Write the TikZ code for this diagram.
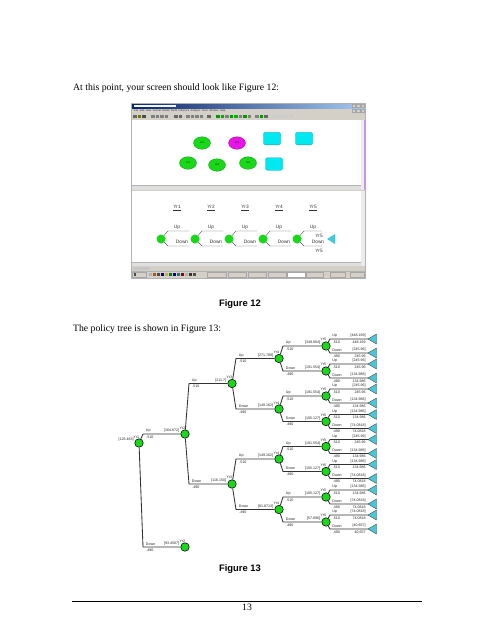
\documentclass[tikz,border=0pt]{standalone}
\usepackage{fontspec}
\setmainfont{Liberation Serif}
\setsansfont{Liberation Sans}
\usetikzlibrary{calc,shapes.geometric}
\definecolor{tgreen}{RGB}{25,215,25}
\definecolor{tcyan}{RGB}{70,200,215}
\definecolor{wingray}{RGB}{212,208,200}
\definecolor{tblue}{RGB}{10,36,106}
\definecolor{tlblue}{RGB}{166,202,240}
\definecolor{smag}{RGB}{230,20,230}
\definecolor{scyan}{RGB}{0,232,240}
\definecolor{slilac}{RGB}{200,150,215}
% chance node of the policy tree with its name label
\newcommand\cnode[4]{%
  \node[chance] (#1) at (#2,#3) {};
  \node[lbl,anchor=south east] at ($(#1)+(0.5,-4.6)$) {#4};
}
% branch between two chance nodes
\newcommand\tbr[5]{%
  \coordinate (k#2) at ($(#1 |- #2)+(4,0)$);
  \draw[br] (#1) -- (k#2) -- (#2);
  \node[lbl,anchor=south west] at ($(k#2)+(2.5,-1.1)$) {#3};
  \node[lbl,anchor=north west] at ($(k#2)+(3,1.4)$) {#4};
  \node[lbl,anchor=south east] at ($(#2)+(-5.5,-1.1)$) {#5};
}
% branch to a terminal triangle
\newcommand\tleaf[7]{%
  \coordinate (#2) at (368,#3);
  \draw[tri] (#2) -- ++(8.5,-5) -- ++(0,10) -- cycle;
  \coordinate (k#2) at ($(#1 |- #2)+(4,0)$);
  \draw[br] (#1) -- (k#2) -- (#2);
  \node[lbl,anchor=south west] at ($(k#2)+(2,-1.1)$) {#4};
  \node[lbl,anchor=north west] at ($(k#2)+(2.5,1.4)$) {#5};
  \node[lbl,anchor=south east] at ($(#2)+(-2,-1.1)$) {#6};
  \node[lbl,anchor=north east] at ($(#2)+(-2,1.4)$) {#7};
}
\begin{document}
\begin{tikzpicture}[x=1pt,y=-1pt,
  lbl/.style={font=\fontsize{3.6}{4}\selectfont\sffamily,inner sep=0.2pt,text=black!85},
  br/.style={draw=black!80,line width=0.85pt},
  chance/.style={circle,draw=black,line width=0.55pt,fill=tgreen,minimum size=8.5pt,inner sep=0pt},
  tri/.style={draw=black!70,fill=tcyan,line width=0.4pt,line join=round},
  slbl/.style={font=\fontsize{4.8}{5}\selectfont\sffamily,inner sep=0pt,text=black!80},
  schance/.style={circle,fill=tgreen,minimum size=9pt,inner sep=0pt},
  sline/.style={draw=black!65,line width=0.45pt},
  body/.style={font=\fontsize{9.7}{11.6}\selectfont,inner sep=0pt},
  figcap/.style={font=\fontsize{9.4}{11}\selectfont\sffamily\bfseries,inner sep=0pt},
  oval/.style={ellipse,draw=tgreen!70!black,line width=0.3pt,minimum width=17pt,minimum height=12.5pt,inner sep=0pt,font=\fontsize{2.3}{2.5}\selectfont\sffamily},
  sbox/.style={rectangle,rounded corners=2pt,fill=scyan,draw=scyan!70!black,line width=0.3pt,minimum width=17pt,minimum height=12.5pt,inner sep=0pt},
  tbtn/.style={draw=gray!70,fill=wingray,line width=0.3pt},
]
\useasboundingbox (0,0) rectangle (495,640);
\fill[white] (0,0) rectangle (495,640);

% ---------- text ----------
\node[body,anchor=base west] (t1) at (73,90) {At this point, your screen should look like Figure 12:};

% ---------- screenshot (Figure 12) ----------
\fill[wingray] (131,103) rectangle (365,278);
\shade[left color=tblue,right color=tlblue] (131,103) rectangle (365,108.5);
\fill[white!85!tlblue] (134,104.6) rectangle (176,107);
\foreach \x in {352,356.5,361}{\draw[tbtn] (\x,104.3) rectangle ++(3.5,3);}
\node[anchor=west,font=\fontsize{2.6}{3}\selectfont\sffamily,inner sep=0pt,text=black!80] (menu) at (134,111)
  {File\ \ Edit\ \ View\ \ Format\ \ Model\ \ Node\ \ Influence\ \ Analysis\ \ Tools\ \ Window\ \ Help};
\foreach \x in {352,356.5,361}{\draw[tbtn] (\x,109) rectangle ++(3.5,3);}
% toolbar icons
\foreach \x/\c in {133/black!60,137.5/olive!80!black,142/black!70,
  151/black!50,155.5/black!50,160/black!50,164.5/black!50,
  174/black!60,178.5/black!60,
  186/black!50,190.5/black!50,195/black!50,199.5/black!50,
  207/black!60,
  216/green!60!black,220.5/green!70!black,225/black!50,229.5/green!60!black,234/green!70!black,238.5/black!50,243/green!60!black,247.5/black!50,
  255/black!50,259.5/green!60!black,264/black!60,
  271/gray!40,275.5/gray!40,280/gray!40,284.5/gray!40,289/gray!40}
  {\fill[\c] (\x,114.6) rectangle ++(3.6,3.4);}
% top pane
\fill[white] (132,119.5) rectangle (361,185.5);
\fill[gray!15] (361,119.5) rectangle (365,190);
\draw[slilac,line width=0.8pt] (364.3,119.5) -- (364.3,190);
\fill[gray!25] (132,185.5) rectangle (361,189.5);
\draw[gray!60,line width=0.3pt] (132,185.5) -- (361,185.5);
\node[oval,fill=tgreen] (o1) at (202,143) {Yr2};
\node[oval,fill=smag,draw=smag!70!black] (o2) at (237,143) {Yr3};
\node[sbox] (b1) at (272,138.5) {};
\node[sbox] (b2) at (304,138.5) {};
\node[oval,fill=tgreen] (o3) at (188,163) {Yr1};
\node[oval,fill=tgreen] (o4) at (217,165) {Yr4};
\node[oval,fill=tgreen] (o5) at (248,163) {Yr5};
\node[sbox] (b3) at (274,164) {};
% bottom pane
\fill[white] (132,190.5) rectangle (361,262);
\fill[gray!15] (361,190.5) rectangle (365,266);
\fill[gray!25] (132,262) rectangle (361,266);
\draw[gray!60,line width=0.3pt] (132,262) -- (361,262);
\foreach \i/\x in {1/161,2/195,3/229,4/263,5/297}{
  \node[schance] (s\i) at (\x,239) {};
  \node[slbl] (y\i) at (\x+16,208) {\underline{Yr\i}};
  \node[slbl] (u\i) at (\x+16,227.5) {Up};
  \node[slbl] (d\i) at (\x+21,242) {Down};
}
\foreach \i/\x in {1/161,2/195,3/229,4/263}{
  \coordinate (su\i) at (\x+28,231);
  \coordinate (sd\i) at (\x+28,246);
  \draw[sline] (s\i) -- ($(s\i)+(7,-8)$) -- (su\i);
  \draw[sline] (s\i) -- ($(s\i)+(7,7)$) -- (sd\i);
}
\coordinate (su5) at (322,231);
\coordinate (sd5) at (322,246);
\draw[sline] (s5) -- ($(s5)+(7,-8)$) -- (su5);
\draw[sline] (s5) -- ($(s5)+(7,7)$) -- (sd5);
\node[slbl] (y5a) at (319,236) {Yr5};
\node[slbl] (y5b) at (319,250.5) {Yr5};
\coordinate (stip) at (327,239);
\fill[tcyan] (stip) -- ++(8,-5) -- ++(0,10) -- cycle;
% status bar and taskbar
\fill[gray!45] (133,267.3) rectangle (150,269.5);
\draw[gray!60,line width=0.3pt] (131,271) -- (365,271);
\draw[tbtn] (132,272) rectangle (146,277);
\fill[black!70] (133.5,273.2) rectangle (136,275.8);
\foreach \x/\c in {149/gray!60,153/orange!70!black,157/black!70,161/blue!60!black,165/yellow!70!black,169/green!50!black,173/blue!70!black,177/teal,181/red!60!black,185/gray!60,189/black!80,193/black!70}
  {\fill[\c] (\x,273) rectangle ++(3,3);}
\foreach \a/\b in {207/226,228/246,248/266,268/286,306/323,330/345}
  {\draw[tbtn] (\a,272) rectangle (\b,277);}
\draw[gray!70,fill=white,line width=0.3pt] (287,272) rectangle (305,277);
\draw[gray!70,fill=wingray,line width=0.3pt] (350,272) rectangle (364,277);
\draw[gray!60,line width=0.4pt] (131,103) rectangle (365,278);

\node[figcap] (f12) at (240,304) {Figure 12};

\node[body,anchor=base west] (t2) at (73,331) {The policy tree is shown in Figure 13:};

% ---------- policy tree (Figure 13) ----------
\cnode{R}{139}{443}{Yr1}
\node[lbl,anchor=east] at ($(R)+(-5,-3)$) {[126.463]};
\cnode{A}{185}{434}{Yr2}
\cnode{B}{185}{547}{Yr2}
\cnode{C1}{232}{383.5}{Yr3}
\cnode{C2}{232}{484}{Yr3}
\cnode{D1}{279}{358.5}{Yr4}
\cnode{D2}{279}{409}{Yr4}
\cnode{D3}{279}{459}{Yr4}
\cnode{D4}{279}{509.5}{Yr4}
\cnode{E1}{326}{346}{Yr5}
\cnode{E2}{326}{371}{Yr5}
\cnode{E3}{326}{396}{Yr5}
\cnode{E4}{326}{421.5}{Yr5}
\cnode{E5}{326}{446.5}{Yr5}
\cnode{E6}{326}{471.5}{Yr5}
\cnode{E7}{326}{497}{Yr5}
\cnode{E8}{326}{522}{Yr5}

\tbr{R}{A}{Up}{.510}{[164.672]}
\tbr{R}{B}{Down}{.490}{[93.4507]}
\tbr{A}{C1}{Up}{.510}{[211.7]}
\tbr{A}{C2}{Down}{.490}{[116.150]}
\tbr{C1}{D1}{Up}{.510}{[271.789]}
\tbr{C1}{D2}{Down}{.490}{[149.162]}
\tbr{C2}{D3}{Up}{.510}{[149.162]}
\tbr{C2}{D4}{Down}{.490}{[81.8713]}
\tbr{D1}{E1}{Up}{.510}{[349.004]}
\tbr{D1}{E2}{Down}{.490}{[191.554]}
\tbr{D2}{E3}{Up}{.510}{[191.554]}
\tbr{D2}{E4}{Down}{.490}{[105.127]}
\tbr{D3}{E5}{Up}{.510}{[191.554]}
\tbr{D3}{E6}{Down}{.490}{[105.127]}
\tbr{D4}{E7}{Up}{.510}{[105.127]}
\tbr{D4}{E8}{Down}{.490}{[57.696]}

\tleaf{E1}{T1u}{339}{Up}{.510}{[448.169]}{448.169}
\tleaf{E1}{T1d}{353}{Down}{.490}{[245.96]}{245.96}
\tleaf{E2}{T2u}{364}{Up}{.510}{[245.96]}{245.96}
\tleaf{E2}{T2d}{378}{Down}{.490}{[134.986]}{134.986}
\tleaf{E3}{T3u}{389}{Up}{.510}{[245.96]}{245.96}
\tleaf{E3}{T3d}{403}{Down}{.490}{[134.986]}{134.986}
\tleaf{E4}{T4u}{414.5}{Up}{.510}{[134.986]}{134.986}
\tleaf{E4}{T4d}{428.5}{Down}{.490}{[74.0818]}{74.0818}
\tleaf{E5}{T5u}{439.5}{Up}{.510}{[245.96]}{245.96}
\tleaf{E5}{T5d}{453.5}{Down}{.490}{[134.986]}{134.986}
\tleaf{E6}{T6u}{464.5}{Up}{.510}{[134.986]}{134.986}
\tleaf{E6}{T6d}{478.5}{Down}{.490}{[74.0818]}{74.0818}
\tleaf{E7}{T7u}{490}{Up}{.510}{[134.986]}{134.986}
\tleaf{E7}{T7d}{504}{Down}{.490}{[74.0818]}{74.0818}
\tleaf{E8}{T8u}{515}{Up}{.510}{[74.0818]}{74.0818}
\tleaf{E8}{T8d}{529}{Down}{.490}{[40.657]}{40.657}

\node[figcap] (f13) at (240,569) {Figure 13};

% ---------- footer ----------
\coordinate (rl) at (72,601);
\coordinate (rr) at (422,601);
\draw[line width=0.7pt] (rl) -- (rr);
\node[body] (pg) at (247,607.5) {13};
\end{tikzpicture}
\end{document}
